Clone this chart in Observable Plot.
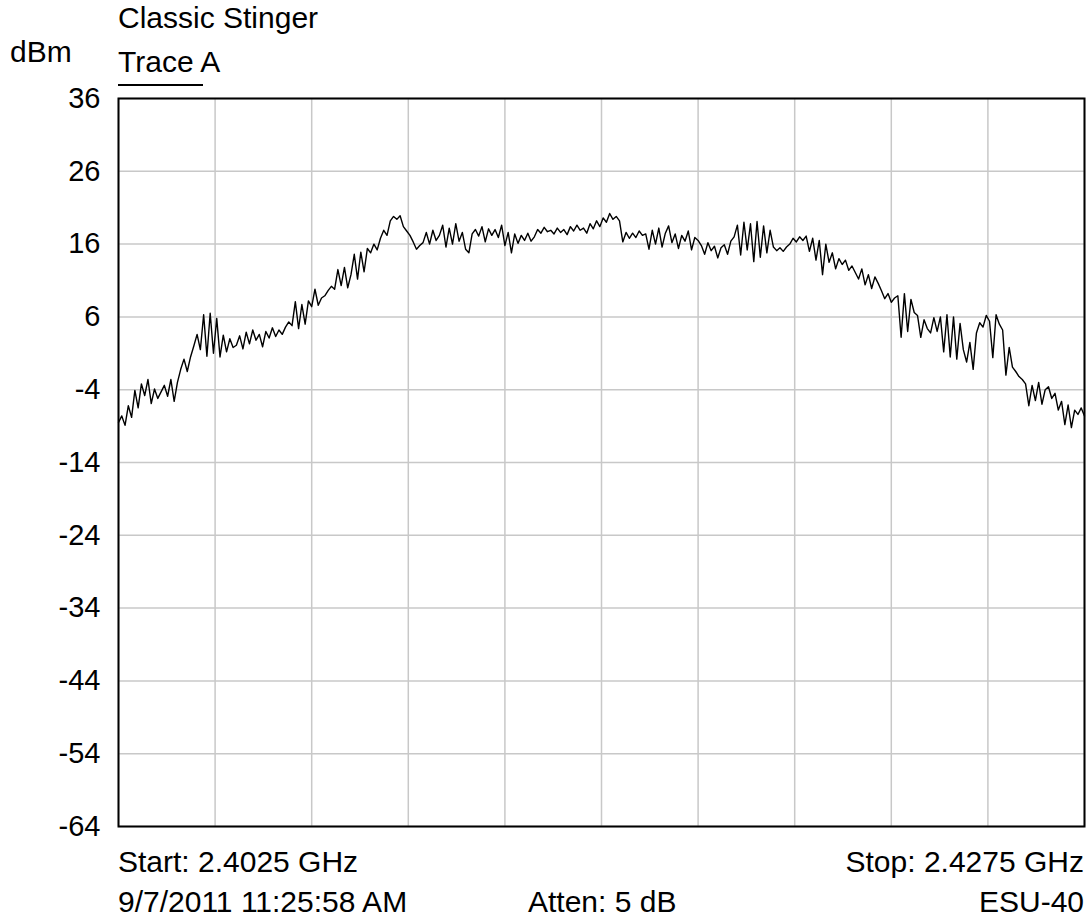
<!DOCTYPE html>
<html>
<head>
<meta charset="utf-8">
<script src="https://cdn.jsdelivr.net/npm/d3@7"></script>
<script src="https://cdn.jsdelivr.net/npm/@observablehq/plot@0.6"></script>
<style>
  html, body { margin: 0; padding: 0; background: #fff; }
  #wrap { position: relative; width: 1089px; height: 924px; font-family: "Liberation Sans", Arial, sans-serif; color: #000; }
  #wrap svg { position: absolute; left: 0; top: 0; }
  .t { position: absolute; font-size: 30px; line-height: 30px; white-space: nowrap; }
</style>
</head>
<body>
<div id="wrap">
  <div class="t" style="left:118px; top:3px;">Classic Stinger</div>
  <div class="t" style="left:10px; top:37px;">dBm</div>
  <div class="t" style="left:118px; top:47px;">Trace A</div>
  <div style="position:absolute; left:118px; top:84px; width:85px; height:1.5px; background:#000;"></div>
  <div class="t" style="left:118px; top:847px;">Start: 2.4025 GHz</div>
  <div class="t" style="right:5px; top:847px; text-align:right;">Stop: 2.4275 GHz</div>
  <div class="t" style="left:118px; top:887px;">9/7/2011 11:25:58 AM</div>
  <div class="t" style="left:528px; top:887px;">Atten: 5 dB</div>
  <div class="t" style="right:5px; top:887px; text-align:right;">ESU-40</div>
</div>
<script>
// Sweep range (GHz)
const startGHz = 2.4025;
const stopGHz = 2.4275;
// Y axis tick labels (dBm)
const yTicks = [36, 26, 16, 6, -4, -14, -24, -34, -44, -54, -64];
// Vertical grid divisions (GHz)
const xGrid = [2.4025, 2.405, 2.4075, 2.41, 2.4125, 2.415, 2.4175, 2.42, 2.4225, 2.425, 2.4275];
// Trace A amplitudes (dBm), evenly spaced sweep points
const traceA = [
  -8.5, -7.6, -8.9, -6.2, -7.8, -4.1, -6.5, -3.2,
  -4.8, -2.6, -5.9, -3.9, -5.2, -4.3,
  -3.4, -4.9, -2.6, -5.6, -3.0,
  -1.2, 0.2, -1.5, 0.5,
  2.0, 3.6, 1.5,
  6.3, 0.6, 6.5, 1.0, 5.8,
  0.5, 3.5, 1.2, 3.0, 1.8,
  2.1, 3.4, 1.6, 3.9, 2.3, 4.2, 2.8, 3.6, 1.9, 4.0, 3.1, 4.5, 3.3, 4.2, 3.6,
  4.6, 5.3, 4.8,
  8.1, 4.4, 7.7, 5.0,
  8.2, 7.4, 9.8, 7.6, 8.6, 8.9,
  9.6, 10.2, 9.8,
  12.5, 10.3, 12.8, 10.0, 11.8,
  14.6, 11.2, 14.9, 12.2,
  15.4, 14.8, 16.0, 15.2,
  16.8, 17.9, 17.2,
  19.2, 19.8, 19.4, 19.9,
  18.4, 17.8, 17.2,
  16.3, 15.3, 15.8,
  16.2, 17.6, 16.0, 17.9, 16.5, 17.2,
  18.6, 15.6, 18.2, 16.0, 18.8, 16.4, 17.6, 15.3,
  14.8,
  17.4, 18.0, 17.1, 18.4, 16.3, 18.1, 17.2, 18.0, 16.9, 18.6,
  15.8, 17.6,
  14.8, 17.4, 16.1, 17.2, 16.5, 17.5, 16.4, 17.0,
  18.0, 17.5, 18.3, 17.7, 17.9, 17.4, 18.2, 17.6, 18.0, 17.3, 18.4, 17.8, 18.6, 17.9, 18.2, 17.5, 18.8, 18.1, 19.2, 18.4,
  19.6, 19.0, 20.2, 19.4, 19.8, 19.2,
  16.3, 17.6, 16.8, 17.5, 16.9, 17.8, 17.2, 17.4,
  15.3, 17.9, 16.0, 18.2, 15.6, 17.5, 18.5, 16.2, 17.4, 15.4, 17.2, 16.4, 17.8, 15.2, 16.9, 16.5,
  15.8, 14.6, 16.2, 15.1, 15.7, 14.1, 15.5, 15.9, 14.6, 16.4,
  17.0, 18.6, 14.5, 19.0, 15.2, 18.8, 13.6, 19.1, 14.2, 18.5, 14.8, 17.9,
  15.6, 15.1, 15.5, 15.0, 15.6,
  16.0, 16.8, 16.3, 17.0, 16.5, 17.1,
  15.0, 16.8, 13.8, 16.5, 11.8, 16.0, 13.5,
  14.8, 12.6, 14.0, 13.2, 13.8, 12.4, 13.0,
  12.1, 11.2, 12.6, 10.4, 11.8, 9.9, 11.5, 10.6,
  9.6, 8.5, 9.2, 8.0, 8.6,
  8.9, 3.2, 9.2, 4.0, 8.4, 6.6,
  6.2, 3.2, 5.6, 4.4, 3.8, 5.9, 4.0, 6.0,
  1.2, 6.3, 0.5, 6.0, 0.2, 5.1,
  1.5, -0.2, 2.5, -1.2,
  3.8, 5.2, 4.6,
  6.2, 5.4, 0.4, 6.3, 5.0,
  4.2, -2.0, 1.8,
  -0.9, -1.5, -2.2, -2.6,
  -3.2, -6.2, -3.4, -5.5, -3.0, -6.0, -4.0, -3.6, -5.2,
  -4.5, -6.8, -5.6, -8.8, -6.1, -9.2, -6.8, -7.4, -6.5, -7.6
];

const n = traceA.length;
const data = traceA.map((v, i) => ({
  f: startGHz + (stopGHz - startGHz) * i / (n - 1),
  dbm: v
}));

const chart = Plot.plot({
  width: 1089,
  height: 924,
  marginTop: 98,
  marginBottom: 98,
  marginLeft: 118,
  marginRight: 5,
  style: { fontFamily: '"Liberation Sans", Arial, sans-serif', fontSize: "30px", color: "#000", background: "transparent", overflow: "visible" },
  x: { domain: [startGHz, stopGHz], axis: null },
  y: { domain: [-64, 36], ticks: yTicks, tickSize: 0, tickPadding: 18, label: null, tickFormat: d => String(d) },
  marks: [
    Plot.gridX(xGrid, { stroke: "#c8c8c8", strokeOpacity: 1, strokeWidth: 1.5 }),
    Plot.gridY(yTicks, { stroke: "#c8c8c8", strokeOpacity: 1, strokeWidth: 1.5 }),
    Plot.axisY(yTicks, { tickSize: 0, tickPadding: 18, fontSize: 29, label: null, tickFormat: d => String(d) }),
    Plot.line(data, { x: "f", y: "dbm", stroke: "black", strokeWidth: 1.4, curve: "linear" }),
    Plot.frame({ stroke: "black", strokeWidth: 2 })
  ]
});
document.getElementById("wrap").prepend(chart);
</script>
</body>
</html>
